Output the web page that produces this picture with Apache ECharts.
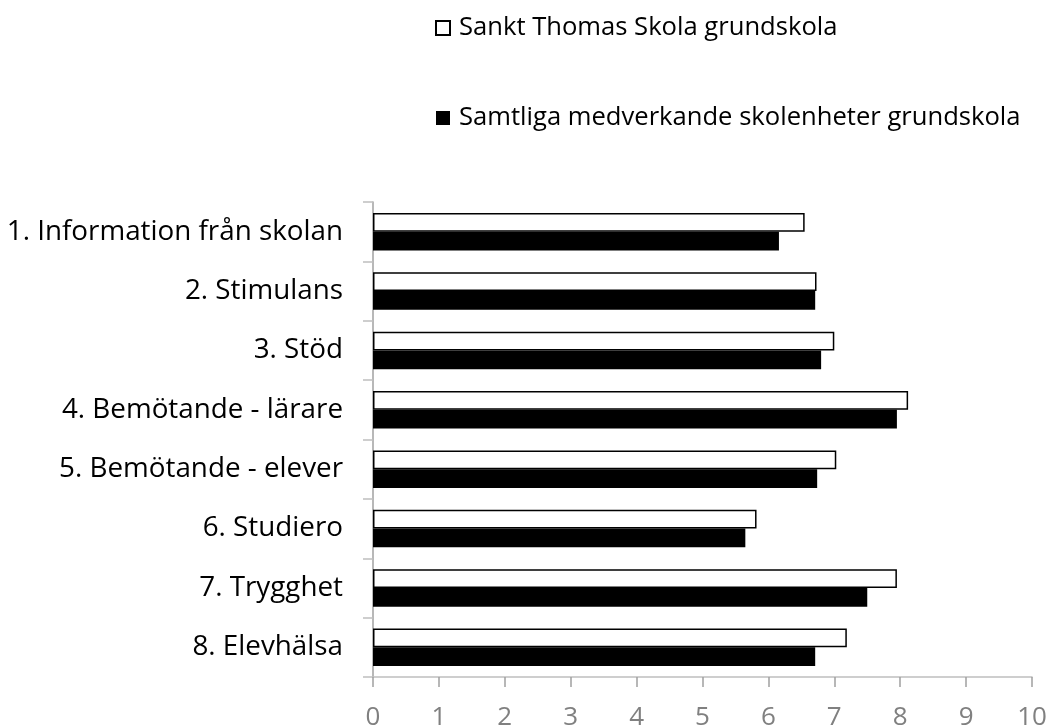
<!DOCTYPE html>
<html>
<head>
<meta charset="utf-8">
<script src="https://cdn.jsdelivr.net/npm/echarts@6/dist/echarts.min.js"></script>
<style>html,body{margin:0;padding:0;background:#fff}#c{width:1061px;height:727px}</style>
</head>
<body>
<div id="c"></div>
<script>
const categories = ["1. Information från skolan","2. Stimulans","3. Stöd","4. Bemötande - lärare","5. Bemötande - elever","6. Studiero","7. Trygghet","8. Elevhälsa"];
const seriesNames = ["Sankt Thomas Skola grundskola","Samtliga medverkande skolenheter grundskola"];
const schoolValues = [6.55, 6.73, 7.00, 8.12, 7.03, 5.82, 7.95, 7.19];
const allValues = [6.16, 6.71, 6.80, 7.95, 6.74, 5.65, 7.50, 6.71];
const xTicks = [0,1,2,3,4,5,6,7,8,9,10];

const FONT = '"Open Sans"';
const chart = echarts.init(document.getElementById('c'), null, {renderer:'canvas'});
chart.setOption({
  animation:false,
  backgroundColor:'#fff',
  textStyle:{fontFamily:FONT},
  legend:{
    orient:'vertical', left:430, top:8, itemGap:60,
    itemWidth:14, itemHeight:14, icon:'rect',
    textStyle:{fontFamily:FONT, fontSize:25.6, color:'#000', lineHeight:30, padding:[0,0,0,4]},
    data:seriesNames
  },
  grid:{left:373, right:29, top:202, bottom:50, containLabel:false, outerBoundsMode:'none'},
  xAxis:{
    type:'value', min:xTicks[0], max:xTicks[xTicks.length-1], interval:1,
    axisLine:{show:true, lineStyle:{color:'#bfbfbf', width:1.5}},
    axisTick:{show:true, length:10, lineStyle:{color:'#a0a0a0', width:1.5}},
    splitLine:{show:false},
    axisLabel:{fontFamily:FONT, fontSize:26, color:'#808080', margin:28}
  },
  yAxis:{
    type:'category', data:categories, inverse:true,
    axisLine:{show:true, lineStyle:{color:'#a0a0a0', width:1.5}},
    axisTick:{show:true, length:10, alignWithLabel:false, lineStyle:{color:'#bfbfbf', width:1.5}},
    axisLabel:{fontFamily:FONT, fontSize:27.8, color:'#000', margin:30}
  },
  series:[
    {name:seriesNames[0], type:'bar', data:schoolValues, barGap:'0%', barCategoryGap:'37%',
     itemStyle:{color:'#fff', borderColor:'#000', borderWidth:1.5}},
    {name:seriesNames[1], type:'bar', data:allValues, barGap:'0%', barCategoryGap:'37%',
     itemStyle:{color:'#000', borderColor:'#000', borderWidth:0}}
  ]
});
</script>
</body>
</html>
